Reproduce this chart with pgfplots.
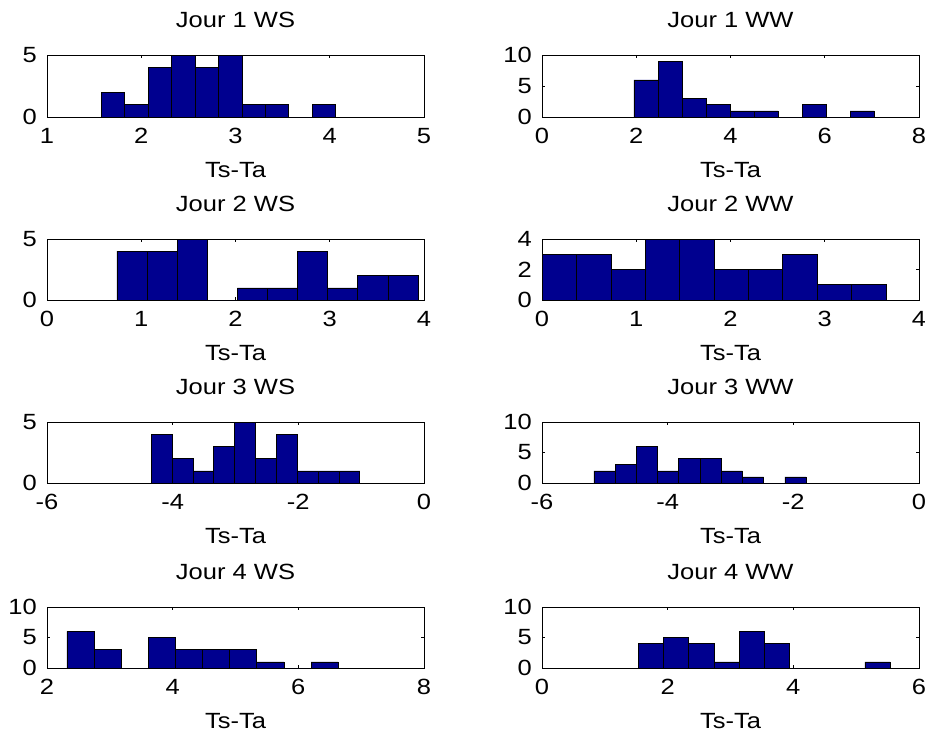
\documentclass[border=0pt]{standalone}
\usepackage{fontspec}
\setmainfont{Liberation Sans}[FakeStretch=1.16]
\usepackage{pgfplots}
\pgfplotsset{compat=1.18}
\definecolor{mnavy}{rgb}{0,0,0.5625}
\pgfplotsset{
  hax/.style={
    scale only axis, width=377bp, ymin=0,
    anchor=south west,
    axis line style={line width=0.8bp},
    tick align=inside, major tick length=3bp,
    tick style={black, line width=0.6bp},
    /pgf/number format/assume math mode=true,
    title style={at={(0.5,1)}, anchor=south, yshift=21bp, inner sep=0pt},
    xlabel style={at={(axis description cs:0.5,0)}, anchor=north, yshift=-45bp, inner sep=0pt},
    xticklabel style={anchor=north, inner sep=0pt, yshift=-11bp},
    yticklabel style={anchor=east, inner sep=0pt, xshift=-10bp},
    xlabel={Ts-Ta},
  },
  hbar/.style={ybar interval, fill=mnavy, draw=black, line width=0.6bp},
}
\pgfplotstableread{
x y
1.575 2
1.824 1
2.072 4
2.321 5
2.569 4
2.818 5
3.067 1
3.315 1
3.564 0
3.813 1
4.061 0
}\jAws
\pgfplotstableread{
x y
1.952 6
2.462 9
2.971 3
3.481 2
3.990 1
4.500 1
5.009 0
5.519 2
6.028 0
6.538 1
7.047 0
}\jAww
\pgfplotstableread{
x y
0.741 4
1.061 4
1.380 5
1.700 0
2.019 1
2.339 1
2.658 4
2.978 1
3.297 2
3.617 2
3.936 0
}\jBws
\pgfplotstableread{
x y
0.000 3
0.365 3
0.730 2
1.094 4
1.459 4
1.824 2
2.189 2
2.554 3
2.918 1
3.283 1
3.648 0
}\jBww
\pgfplotstableread{
x y
-4.342 4
-4.010 2
-3.678 1
-3.346 3
-3.014 5
-2.682 2
-2.350 4
-2.018 1
-1.686 1
-1.354 1
-1.022 0
}\jCws
\pgfplotstableread{
x y
-5.175 2
-4.837 3
-4.499 6
-4.162 2
-3.824 4
-3.486 4
-3.148 2
-2.810 1
-2.472 0
-2.135 1
-1.797 0
}\jCww
\pgfplotstableread{
x y
2.318 6
2.750 3
3.181 0
3.613 5
4.044 3
4.476 3
4.908 3
5.339 1
5.771 0
6.202 1
6.634 0
}\jDws
\pgfplotstableread{
x y
1.533 4
1.934 5
2.334 4
2.735 1
3.136 6
3.537 4
3.937 0
4.338 0
4.739 0
5.139 1
5.540 0
}\jDww
\begin{document}
\fontsize{22bp}{25bp}\selectfont
\begin{tikzpicture}
\useasboundingbox (0,0) rectangle (925bp,-734bp);
% Row 1
\begin{axis}[hax, at={(47bp,-117bp)}, height=62bp, title={Jour 1 WS},
  xmin=1, xmax=5, ymax=5, xtick={1,2,3,4,5}, ytick={0,5}]
\addplot[hbar] table {\jAws};
\end{axis}
\begin{axis}[hax, at={(542bp,-117bp)}, height=62bp, title={Jour 1 WW},
  xmin=0, xmax=8, ymax=10, xtick={0,2,4,6,8}, ytick={0,5,10}]
\addplot[hbar] table {\jAww};
\end{axis}
% Row 2
\begin{axis}[hax, at={(47bp,-300bp)}, height=61bp, title={Jour 2 WS},
  xmin=0, xmax=4, ymax=5, xtick={0,1,2,3,4}, ytick={0,5}]
\addplot[hbar] table {\jBws};
\end{axis}
\begin{axis}[hax, at={(542bp,-300bp)}, height=61bp, title={Jour 2 WW},
  xmin=0, xmax=4, ymax=4, xtick={0,1,2,3,4}, ytick={0,2,4}]
\addplot[hbar] table {\jBww};
\end{axis}
% Row 3
\begin{axis}[hax, at={(47bp,-483bp)}, height=61bp, title={Jour 3 WS},
  xmin=-6, xmax=0, ymax=5, xtick={-6,-4,-2,0}, ytick={0,5}]
\addplot[hbar] table {\jCws};
\end{axis}
\begin{axis}[hax, at={(542bp,-483bp)}, height=61bp, title={Jour 3 WW},
  xmin=-6, xmax=0, ymax=10, xtick={-6,-4,-2,0}, ytick={0,5,10}]
\addplot[hbar] table {\jCww};
\end{axis}
% Row 4
\begin{axis}[hax, at={(47bp,-668bp)}, height=61bp, title={Jour 4 WS},
  xmin=2, xmax=8, ymax=10, xtick={2,4,6,8}, ytick={0,5,10}]
\addplot[hbar] table {\jDws};
\end{axis}
\begin{axis}[hax, at={(542bp,-668bp)}, height=61bp, title={Jour 4 WW},
  xmin=0, xmax=6, ymax=10, xtick={0,2,4,6}, ytick={0,5,10}]
\addplot[hbar] table {\jDww};
\end{axis}
\end{tikzpicture}
\end{document}
